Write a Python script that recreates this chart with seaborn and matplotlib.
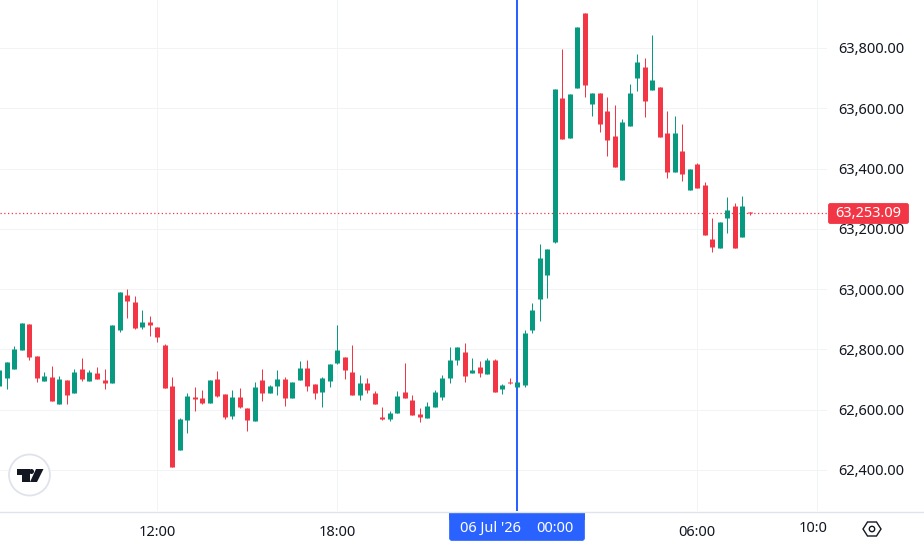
import matplotlib
matplotlib.use("Agg")
import matplotlib.pyplot as plt
from matplotlib.lines import Line2D
from matplotlib.patches import Circle, FancyBboxPatch, Polygon, Rectangle
from matplotlib.transforms import Affine2D
import pandas as pd
import seaborn as sns

# 15-minute bars, numbered from the 12:00 bar
first_bar = -21
opens = [62677,62706,62735,62798,62884,62778,62695,62708,62619,62699,62655,62735,62695,62722,62699,62689,62865,62981,62957,62874,62891,
         62874,62815,62679,62466,62566,62642,62639,62622,62702,62652,62579,62642,62606,62563,62699,62655,62679,62702,62639,62699,62738,
         62685,62659,62695,62755,62775,62725,62649,62689,62655,62576,62569,62589,62659,62632,62586,62572,62609,62642,62705,62765,62791,
         62722,62742,62718,62765,62669,62692,62675,62682,62865,62967,63047,63157,63634,63502,63667,63916,63614,63651,63591,63508,63362,
         63541,63700,63737,63661,63671,63518,63389,63458,63329,63415,63346,63166,63137,63236,63276,63173,63256]
highs = [62738,62758,62811,62888,62884,62778,62725,62745,62712,62699,62735,62771,62732,62742,62735,62881,62991,63000,62977,62931,62911,
         62874,62818,62708,62572,62655,62675,62665,62699,62728,62652,62665,62672,62606,62692,62735,62682,62732,62708,62692,62761,62765,
         62685,62708,62752,62881,62775,62815,62715,62705,62662,62609,62596,62662,62755,62649,62606,62626,62665,62715,62808,62808,62821,
         62771,62761,62771,62768,62685,62705,62692,62865,62954,63150,63133,63664,63797,63647,63870,63916,63651,63651,63637,63611,63564,
         63681,63780,63767,63843,63671,63591,63574,63548,63399,63419,63356,63236,63223,63306,63286,63309,63256]
lows = [62672,62669,62735,62798,62765,62692,62695,62629,62619,62619,62655,62695,62695,62702,62669,62689,62858,62904,62868,62868,62845,
        62825,62672,62410,62466,62523,62596,62619,62622,62642,62569,62569,62606,62530,62563,62629,62655,62649,62612,62639,62699,62662,
        62636,62609,62675,62752,62702,62649,62632,62655,62619,62566,62563,62589,62639,62583,62559,62572,62609,62632,62689,62748,62692,
        62722,62708,62718,62659,62652,62685,62675,62675,62855,62894,62971,63153,63498,63502,63667,63637,63574,63521,63442,63405,63362,
        63541,63657,63571,63661,63505,63369,63389,63359,63329,63336,63180,63123,63137,63186,63137,63173,63246]
closes = [62732,62758,62801,62888,62775,62705,62712,62629,62702,62649,62725,62702,62725,62702,62689,62881,62991,62961,62871,62891,62881,
          62841,62672,62410,62569,62646,62636,62622,62699,62646,62576,62642,62609,62566,62675,62655,62679,62702,62639,62692,62738,62679,
          62655,62705,62752,62798,62732,62649,62689,62665,62619,62569,62589,62646,62639,62583,62576,62612,62659,62705,62765,62808,62712,
          62732,62722,62765,62659,62682,62689,62692,62855,62931,63103,63133,63664,63498,63647,63870,63677,63651,63548,63495,63405,63554,
          63651,63754,63624,63694,63505,63389,63518,63382,63399,63336,63180,63140,63223,63263,63137,63276,63253]
last_price = 63253.09

price_levels = [62400, 62600, 62800, 63000, 63200, 63400, 63600, 63800]
time_bars = [0, 24, 48, 72, 88]
time_labels = ["12:00", "18:00", "", "06:00", ""]
cursor_bar = 48
cursor_date = "06 Jul '26"
cursor_time = "00:00"
clipped_time_label = "10:0"

GREEN = "#089981"
RED = "#F23645"
BLUE = "#2962FF"
INK = "#131722"
GRID = "#F2F3F5"
EDGE = "#E0E3EB"
LABEL_SIZE = 10.5

sns.set_theme(style="white")
plt.rcParams["font.family"] = ["Noto Sans", "DejaVu Sans"]

bars = pd.DataFrame({"open": opens, "high": highs, "low": lows, "close": closes})
bars["bar"] = range(first_bar, first_bar + len(bars))
bars["side"] = ["up" if c >= o else "down" for o, c in zip(bars["open"], bars["close"])]
bars["top"] = bars[["open", "close"]].max(axis=1)
bars["bottom"] = bars[["open", "close"]].min(axis=1)

wicks = bars.melt(id_vars=["bar", "side"], value_vars=["high", "low"], value_name="price")
bodies = bars.melt(id_vars=["bar", "side"], value_vars=["top", "bottom"], value_name="price")

W, H = 924, 550
fig = plt.figure(figsize=(W / 100, H / 100), dpi=100, facecolor="white")
pane_right, pane_bottom = 827, 511
ax = fig.add_axes([0, 1 - pane_bottom / H, pane_right / W, pane_bottom / H], facecolor="white")

# screen coordinates (y down) for the chrome around the plot
px = Affine2D().scale(1, -1).translate(0, H)

palette = {"up": GREEN, "down": RED}
common = dict(x="bar", y="price", hue="side", units="bar", estimator=None, palette=palette,
              legend=False, solid_capstyle="butt", ax=ax)
sns.lineplot(data=wicks, linewidth=0.72, zorder=3, **common)
sns.lineplot(data=bodies, linewidth=3.6, zorder=4, **common)

ax.set_xlim((0 - 157.0) / 7.5, (pane_right - 157.0) / 7.5)
ax.set_ylim(62264, 63959)
ax.set_xlabel("")
ax.set_ylabel("")
for spine in ax.spines.values():
    spine.set_visible(False)

ax.set_xticks(time_bars, time_labels)
ax.set_yticks(price_levels, [f"{p:,.2f}" for p in price_levels])
ax.yaxis.tick_right()
ax.tick_params(axis="both", length=0, labelsize=LABEL_SIZE, colors=INK)
ax.tick_params(axis="x", pad=10)
ax.tick_params(axis="y", pad=8)
ax.grid(True, color=GRID, linewidth=0.72)
ax.set_axisbelow(True)

ax.axhline(last_price, color=RED, linewidth=0.9, linestyle=(0, (1, 2)), zorder=1.5)
ax.axvline(cursor_bar, color=BLUE, linewidth=1.45, zorder=2)

fig.add_artist(Line2D([0, W], [pane_bottom + 0.5] * 2, color=EDGE, linewidth=1, transform=px))

# date badge under the cursor line
badge = FancyBboxPatch((449.5, 514), 135, 26.5, boxstyle="round,pad=0,rounding_size=2.5",
                       transform=px, facecolor=BLUE, edgecolor=BLUE, linewidth=0.5)
fig.add_artist(badge)
fig.add_artist(Rectangle((449, 512), 136, 8, transform=px, facecolor=BLUE, edgecolor="none"))
fig.text(460, 528.5, cursor_date, transform=px, color="white", fontsize=LABEL_SIZE, va="center", ha="left")
fig.text(573.5, 528.5, cursor_time, transform=px, color="white", fontsize=LABEL_SIZE, va="center", ha="right")

fig.text(813, 529, clipped_time_label, transform=px, color=INK, fontsize=LABEL_SIZE, va="center", ha="center")

# last-price tag on the scale
fig.add_artist(FancyBboxPatch((828.5, 203.5), 80, 20, boxstyle="round,pad=0,rounding_size=2",
                              transform=px, facecolor=RED, edgecolor=RED, linewidth=0.6, zorder=5))
fig.text(868.5, 213.5, f"{last_price:,.2f}", transform=px, color="white", fontsize=LABEL_SIZE,
         fontweight="medium", va="center", ha="center", zorder=6)

# settings hexagon
fig.add_artist(Polygon([(863, 529), (867.5, 522), (876.5, 522), (881, 529), (876.5, 536), (867.5, 536)],
                       closed=True, transform=px, facecolor="none", edgecolor=INK, linewidth=1.0))
fig.add_artist(Circle((872, 529), 2.7, transform=px, facecolor="none", edgecolor=INK, linewidth=1.0))

# brand badge
fig.add_artist(Circle((29.5, 475), 20.5, transform=px, facecolor="white", edgecolor=EDGE, linewidth=1.3, zorder=5))
fig.add_artist(Polygon([(17, 469), (29.5, 469), (29.5, 482), (22, 482), (22, 474.5), (17, 474.5)],
                       transform=px, facecolor=INK, edgecolor="none", zorder=6))
fig.add_artist(Circle((31.5, 471.5), 2.5, transform=px, facecolor=INK, edgecolor="none", zorder=6))
fig.add_artist(Polygon([(36, 469), (43.5, 469), (37, 482), (30, 482)],
                       transform=px, facecolor=INK, edgecolor="none", zorder=6))

fig.savefig("out.png", dpi=100)
